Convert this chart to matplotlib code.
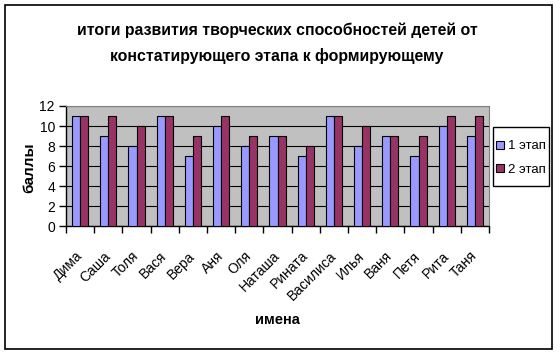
import numpy as np
import matplotlib
matplotlib.use("Agg")
import matplotlib.pyplot as plt
from matplotlib.patches import Rectangle

plt.rcParams['font.family'] = ['Liberation Sans', 'DejaVu Sans']

names = ['Дима', 'Саша', 'Толя', 'Вася', 'Вера', 'Аня', 'Оля', 'Наташа', 'Рината',
         'Василиса', 'Илья', 'Ваня', 'Петя', 'Рита', 'Таня']
stage1 = [11, 9, 8, 11, 7, 10, 8, 9, 7, 11, 8, 9, 7, 10, 9]
stage2 = [11, 11, 10, 11, 9, 11, 9, 9, 8, 11, 10, 9, 9, 11, 11]
series_labels = ['1 этап', '2 этап']
title = 'итоги развития творческих способностей детей от\nконстатирующего этапа к формирующему'

W, H = 560, 356
fig = plt.figure(figsize=(W / 100, H / 100), dpi=100)
fig.patch.set_facecolor('white')

# plot area in pixels: x 66..489, y 106..226
ax = fig.add_axes([66 / W, 1 - 226 / H, (489 - 66) / W, (226 - 106) / H])
ax.set_facecolor('#C0C0C0')

x = np.arange(len(names))
w = 0.286
ax.bar(x - w / 2, stage1, w, color='#9999FF', edgecolor='black', linewidth=0.8,
       label=series_labels[0], zorder=3)
ax.bar(x + w / 2, stage2, w, color='#993366', edgecolor='black', linewidth=0.8,
       label=series_labels[1], zorder=3)

ax.set_xlim(-0.5, len(names) - 0.5)
ax.set_ylim(0, 12)
ax.set_yticks(range(0, 13, 2))
ax.yaxis.grid(True, color='black', linewidth=0.8, zorder=1)
ax.set_axisbelow(True)

ax.set_xticks(np.arange(-0.5, len(names), 1))
ax.set_xticklabels([])
ax.set_xticks(x, minor=True)
ax.set_xticklabels(names, minor=True, rotation=45, ha='right', va='center',
                   rotation_mode='anchor', fontsize=10)
ax.tick_params(axis='x', which='minor', length=0, pad=20)
ax.tick_params(axis='x', which='major', length=5, width=1, direction='out')
ax.tick_params(axis='y', length=5, width=1, direction='out', labelsize=10, pad=3)

for s in ['top', 'right']:
    ax.spines[s].set_color('#808080')
    ax.spines[s].set_linewidth(0.8)
for s in ['left', 'bottom']:
    ax.spines[s].set_color('black')
    ax.spines[s].set_linewidth(1)

fig.text(29 / W, 1 - 168 / H, 'баллы', fontsize=11, fontweight='bold',
         rotation=90, ha='center', va='center')
fig.text(277 / W, 1 - 320 / H, 'имена', fontsize=10.5, fontweight='bold',
         ha='center', va='center')

fig.text(277 / W, 1 - 43 / H, title, fontsize=11.4, fontweight='bold',
         ha='center', va='center', linespacing=1.8)

leg = ax.legend(loc='center', bbox_to_anchor=(521 / W, 1 - 158 / H),
                bbox_transform=fig.transFigure, frameon=False,
                fontsize=9.5, handlelength=0.55, handleheight=0.55,
                handletextpad=0.3, borderpad=0, labelspacing=0.85, borderaxespad=0)
for h in leg.legend_handles:
    h.set_edgecolor('black')
    h.set_linewidth(0.8)

# legend box
fig.patches.append(Rectangle((493 / W, 1 - 186 / H), (549 - 493) / W, (186 - 127) / H,
                             transform=fig.transFigure, fill=False,
                             edgecolor='black', linewidth=1))

# chart border
fig.patches.append(Rectangle((5 / W, 1 - 349 / H), (552 - 5) / W, (349 - 5) / H,
                             transform=fig.transFigure, fill=False,
                             edgecolor='black', linewidth=1.2))

fig.savefig('out.png', dpi=100)
